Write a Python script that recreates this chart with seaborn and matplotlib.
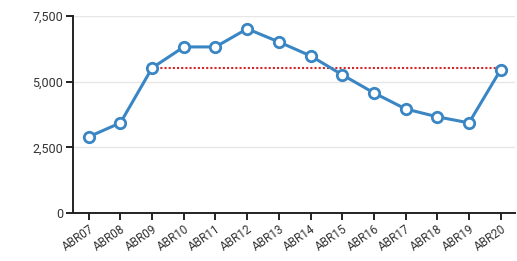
import pandas as pd
import seaborn as sns
import matplotlib.pyplot as plt

# data
periods = ["ABR07", "ABR08", "ABR09", "ABR10", "ABR11", "ABR12", "ABR13",
           "ABR14", "ABR15", "ABR16", "ABR17", "ABR18", "ABR19", "ABR20"]
values = [2900, 3430, 5520, 6320, 6320, 7010, 6510, 5980, 5260, 4570, 3960, 3660, 3430, 5450]
ref_value = 5500
ref_start = "ABR09"

df = pd.DataFrame({"period": periods, "value": values})
df["x"] = range(len(df))

sns.set_theme(style="white")
plt.rcParams["font.family"] = ["Roboto", "DejaVu Sans"]

fig = plt.figure(figsize=(5.17, 2.61), dpi=100)
ax = fig.add_axes([0.141, 0.184, 0.855, 0.755])

for y in [2500, 5000, 7500]:
    ax.axhline(y, color="#e6e6e6", lw=1, zorder=0)

start = periods.index(ref_start)
ax.plot([start, len(periods) - 1], [ref_value, ref_value], color="#d62728",
        ls=(0, (1, 1)), lw=1.5, zorder=1)

sns.lineplot(data=df, x="x", y="value", ax=ax, color="#3a86c4", lw=2.2,
             marker="o", markersize=7.5, markerfacecolor="white",
             markeredgecolor="#3a86c4", markeredgewidth=2, zorder=3)

ax.set_xlim(-0.5, 13.45)
ax.set_ylim(0, 7500)
ax.set_yticks([0, 2500, 5000, 7500])
ax.set_yticklabels(["0", "2,500", "5,000", "7,500"], fontsize=9, color="#333333")
ax.set_xticks(df["x"])
ax.set_xticklabels(periods, rotation=35, ha="right", rotation_mode="anchor",
                   fontsize=8.5, color="#333333")
ax.set_xlabel("")
ax.set_ylabel("")

for s in ["top", "right"]:
    ax.spines[s].set_visible(False)
for s in ["left", "bottom"]:
    ax.spines[s].set_color("#222222")
    ax.spines[s].set_linewidth(1.4)
ax.tick_params(axis="both", direction="out", length=5, width=1.4, color="#222222",
               left=True, bottom=True, pad=2)

fig.savefig("out.png", dpi=100)
